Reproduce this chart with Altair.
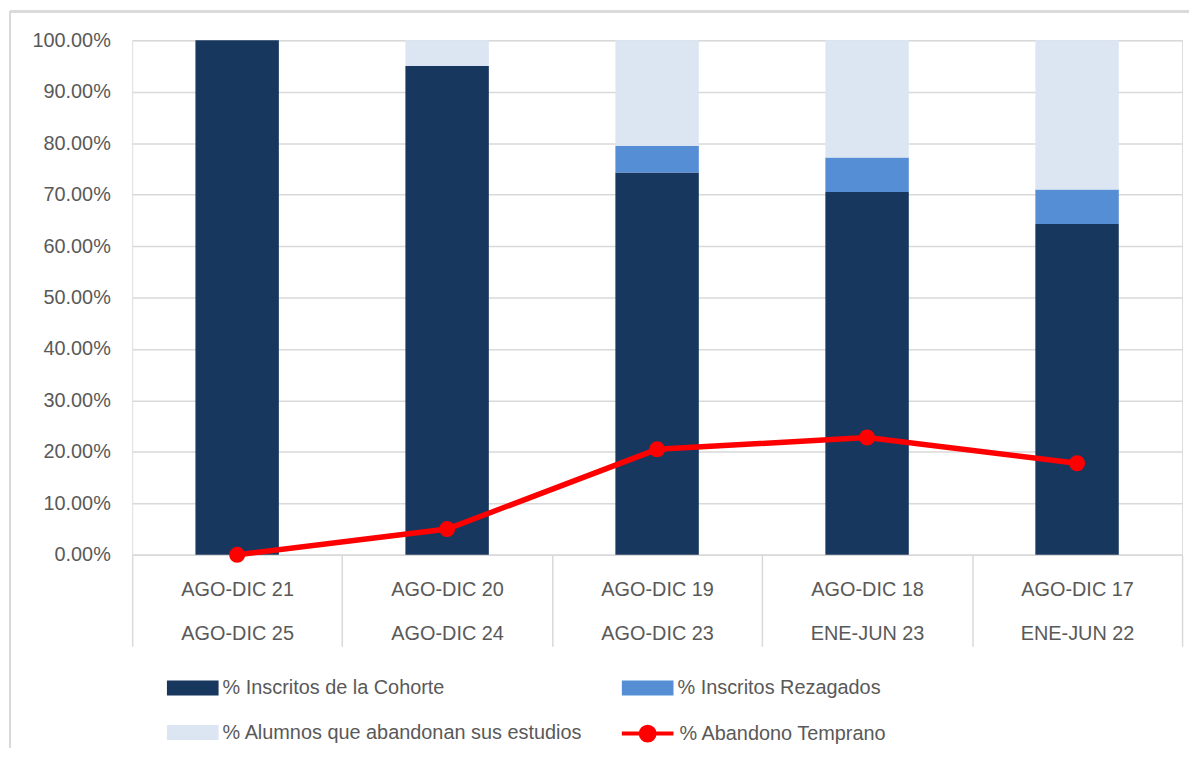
import altair as alt
import pandas as pd

# ---- data ----
cat_top = ["AGO-DIC 21", "AGO-DIC 20", "AGO-DIC 19", "AGO-DIC 18", "AGO-DIC 17"]
cat_bottom = ["AGO-DIC 25", "AGO-DIC 24", "AGO-DIC 23", "ENE-JUN 23", "ENE-JUN 22"]
cohorte = [1.000, 0.950, 0.743, 0.705, 0.643]
rezagados = [0.000, 0.000, 0.052, 0.067, 0.067]
abandonan = [0.000, 0.050, 0.205, 0.228, 0.290]
abandono_temprano = [0.000, 0.050, 0.205, 0.228, 0.178]

series_names = ["% Inscritos de la Cohorte", "% Inscritos Rezagados",
                "% Alumnos que abandonan sus estudios"]
line_name = "% Abandono Temprano"
bar_colors = ["#17375E", "#558ED5", "#DCE6F2"]

cats = [f"{a}|{b}" for a, b in zip(cat_top, cat_bottom)]

rows = []
for i, c in enumerate(cats):
    for k, (name, vals) in enumerate(zip(series_names, [cohorte, rezagados, abandonan])):
        rows.append({"cat": c, "serie": name, "value": vals[i], "orden": k})
bars_df = pd.DataFrame(rows)
line_df = pd.DataFrame({"cat": cats, "value": abandono_temprano, "serie": line_name})

# legend is laid out column-major: order so rows read Cohorte/Rezagados, Alumnos
legend_order = [series_names[0], series_names[2], series_names[1]]
legend_colors = [bar_colors[0], bar_colors[2], bar_colors[1]]

FONT = "Liberation Sans, Arial"
TXT = "#595959"
GRID = "#D9D9D9"
FS = 20

rect_path = "M-1,-0.29H1V0.29H-1Z"
line_path = "M-1,0H1M0.27,0A0.27,0.27,0,1,1,-0.27,0A0.27,0.27,0,1,1,0.27,0Z"

x_enc = alt.X(
    "cat:N", sort=cats, title=None,
    scale=alt.Scale(paddingInner=0, paddingOuter=0),
    axis=alt.Axis(
        labelExpr="split(datum.label, '|')", labelAngle=0, labelLineHeight=44,
        labelFontSize=FS, labelColor=TXT, labelFont=FONT, labelBaseline="top",
        tickBand="extent", tickSize=92, tickColor=GRID, tickWidth=1.5,
        labelPadding=-67, domainColor=GRID, domainWidth=1.5,
    ),
)
y_axis = alt.Axis(
    values=[i / 10 for i in range(11)], format=".2%", title=None,
    labelFontSize=FS, labelColor=TXT, labelFont=FONT, labelPadding=22,
    ticks=False, domain=False, gridColor=GRID, gridWidth=1.5,
)

bars = alt.Chart(bars_df).mark_bar(size=84).encode(
    x=x_enc,
    y=alt.Y("value:Q", stack="zero", scale=alt.Scale(domain=[0, 1], nice=False), axis=y_axis),
    color=alt.Color(
        "serie:N",
        scale=alt.Scale(domain=legend_order, range=legend_colors),
        legend=alt.Legend(
            title=None, orient="none", legendX=35, legendY=626, columns=2,
            symbolType=rect_path, symbolSize=2704, symbolStrokeWidth=0,
            labelFontSize=FS, labelColor=TXT, labelFont=FONT, labelOffset=4,
            labelLimit=600, columnPadding=39, rowPadding=9,
        ),
    ),
    order=alt.Order("orden:Q", sort="ascending"),
)

line = alt.Chart(line_df).mark_line(
    strokeWidth=5.5, point=alt.OverlayMarkDef(filled=True, size=200, color="#FF0000")
).encode(
    x=alt.X("cat:N", sort=cats),
    y=alt.Y("value:Q"),
    stroke=alt.Stroke(
        "serie:N",
        scale=alt.Scale(domain=[line_name], range=["#FF0000"]),
        legend=alt.Legend(
            title=None, orient="none", legendX=491, legendY=670,
            symbolType=line_path, symbolSize=2704, symbolStrokeWidth=4,
            symbolFillColor="#FF0000", labelLimit=400,
            labelFontSize=FS, labelColor=TXT, labelFont=FONT, labelOffset=4,
        ),
    ),
)

# chart-area frame (top and left edges visible in the reference)
frame_top = alt.Chart(line_df).mark_rule(color=GRID, strokeWidth=2).encode(
    x=alt.value(-123), x2=alt.value(1070), y=alt.value(-29)
)
frame_left = alt.Chart(line_df).mark_rule(color=GRID, strokeWidth=2).encode(
    x=alt.value(-123), y=alt.value(-29), y2=alt.value(800)
)

chart = alt.layer(frame_top, frame_left, bars, line).resolve_scale(color="independent").properties(
    width=1057, height=518,
    autosize=alt.AutoSizeParams(type="none"),
    padding={"left": 125, "top": 30, "right": 7, "bottom": 192},
).configure_view(stroke=None).configure(background="white")

chart.save("out.html", embed_options={"renderer": "svg", "actions": False})
